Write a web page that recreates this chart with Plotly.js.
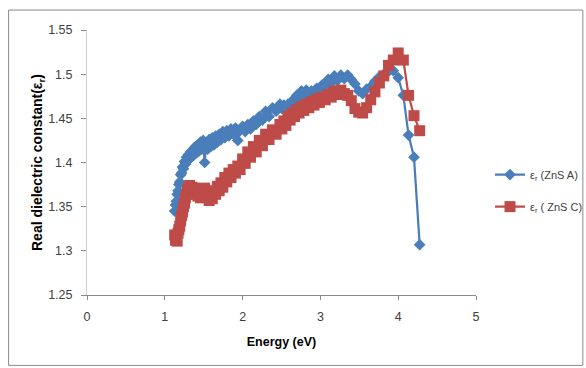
<!DOCTYPE html>
<html>
<head>
<meta charset="utf-8">
<script src="https://cdn.plot.ly/plotly-3.0.1.min.js"></script>
<style>
html,body{margin:0;padding:0;background:#fff;}
#chart{width:586px;height:368px;}
</style>
</head>
<body>
<div id="chart"></div>
<script>
// Photon energy (eV)
const energy = [1.127,1.138,1.148,1.159,1.170,1.181,1.192,1.204,1.216,1.228,1.240,1.253,1.265,1.278,1.292,1.305,1.319,1.333,1.348,1.363,1.378,1.393,1.409,1.425,1.442,1.459,1.476,1.494,1.512,1.531,1.550,1.570,1.590,1.610,1.632,1.653,1.676,1.699,1.722,1.746,1.771,1.797,1.824,1.851,1.879,1.908,1.938,1.968,2.000,2.033,2.067,2.102,2.138,2.175,2.214,2.255,2.296,2.340,2.385,2.431,2.480,2.505,2.531,2.557,2.583,2.611,2.638,2.667,2.696,2.725,2.756,2.787,2.818,2.851,2.884,2.918,2.952,2.988,3.024,3.062,3.100,3.139,3.179,3.221,3.263,3.307,3.351,3.397,3.444,3.493,3.543,3.594,3.647,3.701,3.758,3.815,3.875,3.937,4.000,4.066,4.133,4.203,4.276];

// Real dielectric constant, ZnS A
const epsA = [1.345,1.352,1.356,1.364,1.368,1.375,1.378,1.386,1.388,1.395,1.393,1.401,1.398,1.406,1.402,1.409,1.404,1.412,1.407,1.415,1.409,1.418,1.411,1.420,1.413,1.423,1.415,1.425,1.400,1.420,1.415,1.426,1.418,1.428,1.420,1.430,1.423,1.432,1.426,1.435,1.428,1.436,1.430,1.438,1.432,1.439,1.425,1.436,1.441,1.435,1.443,1.438,1.447,1.443,1.452,1.448,1.458,1.452,1.462,1.458,1.466,1.461,1.465,1.459,1.466,1.462,1.470,1.466,1.476,1.472,1.481,1.476,1.482,1.477,1.481,1.476,1.484,1.480,1.488,1.485,1.494,1.490,1.498,1.493,1.499,1.495,1.499,1.494,1.489,1.481,1.478,1.483,1.486,1.492,1.497,1.500,1.503,1.504,1.496,1.476,1.431,1.406,1.307];

// Real dielectric constant, ZnS C
const epsC = [1.318,1.312,1.315,1.311,1.320,1.324,1.328,1.334,1.340,1.344,1.350,1.354,1.360,1.364,1.370,1.366,1.374,1.368,1.372,1.366,1.371,1.364,1.370,1.362,1.368,1.360,1.367,1.362,1.371,1.361,1.366,1.357,1.364,1.359,1.368,1.364,1.373,1.368,1.377,1.372,1.383,1.378,1.388,1.383,1.392,1.388,1.396,1.392,1.404,1.399,1.412,1.406,1.418,1.412,1.425,1.419,1.432,1.426,1.437,1.432,1.443,1.438,1.447,1.442,1.452,1.448,1.456,1.452,1.460,1.456,1.463,1.459,1.466,1.462,1.469,1.465,1.472,1.468,1.474,1.471,1.477,1.474,1.481,1.477,1.482,1.478,1.476,1.470,1.461,1.457,1.456,1.462,1.471,1.480,1.490,1.498,1.510,1.516,1.524,1.516,1.476,1.453,1.436];

const nameA = 'ε<sub>r</sub> (ZnS A)';
const nameC = 'ε<sub>r</sub> ( ZnS C)';
const xTitle = '<b>Energy (eV)</b>';
const yTitle = '<b>Real dielectric constant(ε<sub>r</sub>)</b>';

const blue = '#4a7ebb';
const red = '#be4b48';
const font = '"Liberation Sans Narrow", "Liberation Sans", Arial, sans-serif';

const traces = [
  {x: energy, y: epsA, name: nameA, type: 'scatter', mode: 'lines+markers',
   legendgroup: 'a',
   line: {color: blue, width: 2.25},
   marker: {symbol: 'diamond', size: 9, color: blue}},
  {x: energy, y: epsC, name: nameC, type: 'scatter', mode: 'lines+markers',
   legendgroup: 'c',
   line: {color: red, width: 2.25},
   marker: {symbol: 'square', size: 11, color: red}}
];

const layout = {
  width: 586, height: 368,
  margin: {l: 86.5, r: 110, t: 30, b: 72.5, autoexpand: false},
  paper_bgcolor: '#fff', plot_bgcolor: '#fff',
  font: {family: font, size: 12, color: '#404040'},
  showlegend: true,
  legend: {x: 1.036, xanchor: 'left', y: 0.509, yanchor: 'top',
           traceorder: 'grouped', tracegroupgap: 13,
           font: {family: font, size: 11, color: '#404040'},
           bgcolor: 'rgba(0,0,0,0)'},
  xaxis: {range: [0, 5], dtick: 1, tick0: 0, showgrid: false, zeroline: false,
          showline: true, linecolor: '#8a8a8a', linewidth: 1,
          ticks: 'outside', ticklen: 4, tickcolor: '#8a8a8a', ticklabelstandoff: 6,
          tickfont: {family: font, size: 12.5, color: '#404040'},
          title: {text: xTitle, standoff: 14,
                  font: {family: font, size: 12.5, color: '#000'}}},
  yaxis: {range: [1.25, 1.55], dtick: 0.05, tick0: 1.25, showgrid: false, zeroline: false,
          showline: true, linecolor: '#d0d0d0', linewidth: 1,
          ticks: 'outside', ticklen: 5, tickcolor: '#8a8a8a', ticklabelstandoff: 6,
          tickfont: {family: font, size: 12.5, color: '#404040'},
          title: {text: yTitle, standoff: 2,
                  font: {family: font, size: 14, color: '#000'}}},
  shapes: [{type: 'rect', xref: 'paper', yref: 'paper',
            x0: (8 - 86.5) / 389.5, x1: (583 - 86.5) / 389.5,
            y0: (295.5 - 366) / 265.5, y1: (295.5 - 10) / 265.5,
            line: {color: '#8a8a8a', width: 1}, fillcolor: 'rgba(0,0,0,0)', layer: 'below'}]
};

Plotly.newPlot('chart', traces, layout, {displayModeBar: false, staticPlot: true});
</script>
</body>
</html>
